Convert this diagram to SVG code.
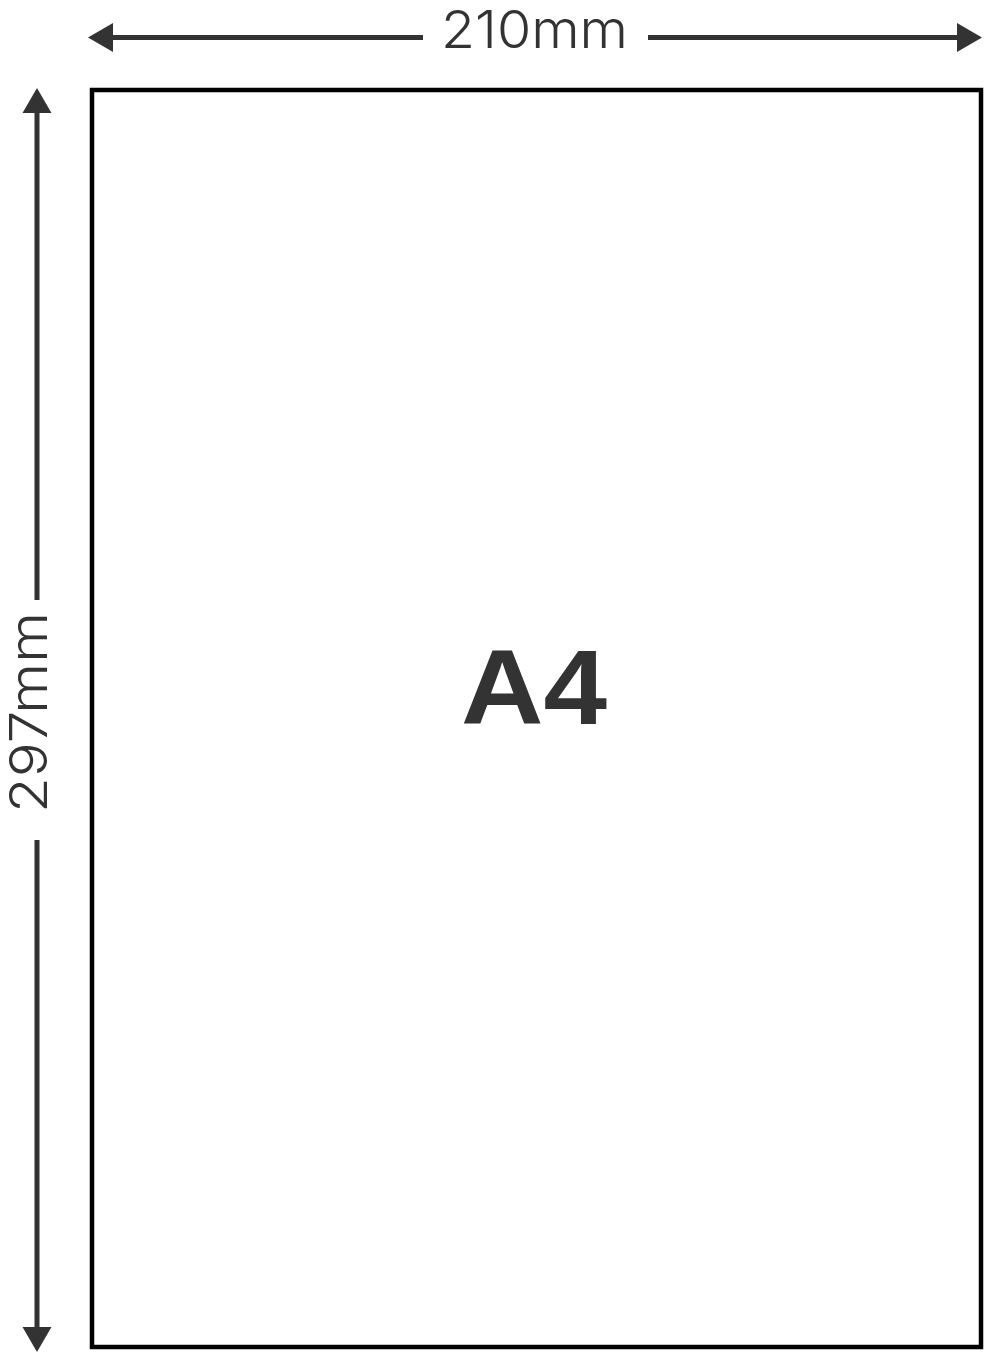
<svg xmlns="http://www.w3.org/2000/svg" width="984" height="1352" viewBox="0 0 984 1352">
  <style>
    .dim { stroke: #333333; stroke-width: 5; fill: none; }
    .dimtext { font-family: Inter, "Liberation Sans", Arial, sans-serif; font-weight: 300; font-size: 52px; fill: #333333; }
    .title { font-family: "Liberation Sans", Arial, sans-serif; font-weight: bold; font-size: 105px; fill: #333333; }
  </style>
  <defs>
    <marker id="arrow" markerUnits="userSpaceOnUse" markerWidth="26" markerHeight="30" refX="0" refY="14.5" orient="auto-start-reverse" viewBox="0 0 26 29">
      <path d="M0,0 L25,14.5 L0,29 Z" fill="#333333"/>
    </marker>
  </defs>
  <rect width="984" height="1352" fill="#ffffff"/>
  <g id="page">
    <rect x="92" y="90" width="889" height="1257" fill="#ffffff" stroke="#000000" stroke-width="4.5"/>
    <text class="title" x="534" y="724" text-anchor="middle" textLength="146" lengthAdjust="spacingAndGlyphs">A4</text>
  </g>
  <g id="connectors">
    <line class="dim" x1="113" y1="37.5" x2="423" y2="37.5" marker-start="url(#arrow)"/>
    <line class="dim" x1="648" y1="37.5" x2="957" y2="37.5" marker-end="url(#arrow)"/>
    <line class="dim" x1="37" y1="113" x2="37" y2="600" marker-start="url(#arrow)"/>
    <line class="dim" x1="37" y1="840" x2="37" y2="1327" marker-end="url(#arrow)"/>
  </g>
  <g id="width-label">
    <text class="dimtext" x="534.5" y="48" text-anchor="middle" textLength="187" lengthAdjust="spacingAndGlyphs">210mm</text>
  </g>
  <g id="height-label">
    <text class="dimtext" x="0" y="0" text-anchor="middle" transform="translate(47,712.5) rotate(-90)" textLength="201" lengthAdjust="spacingAndGlyphs">297mm</text>
  </g>
</svg>
